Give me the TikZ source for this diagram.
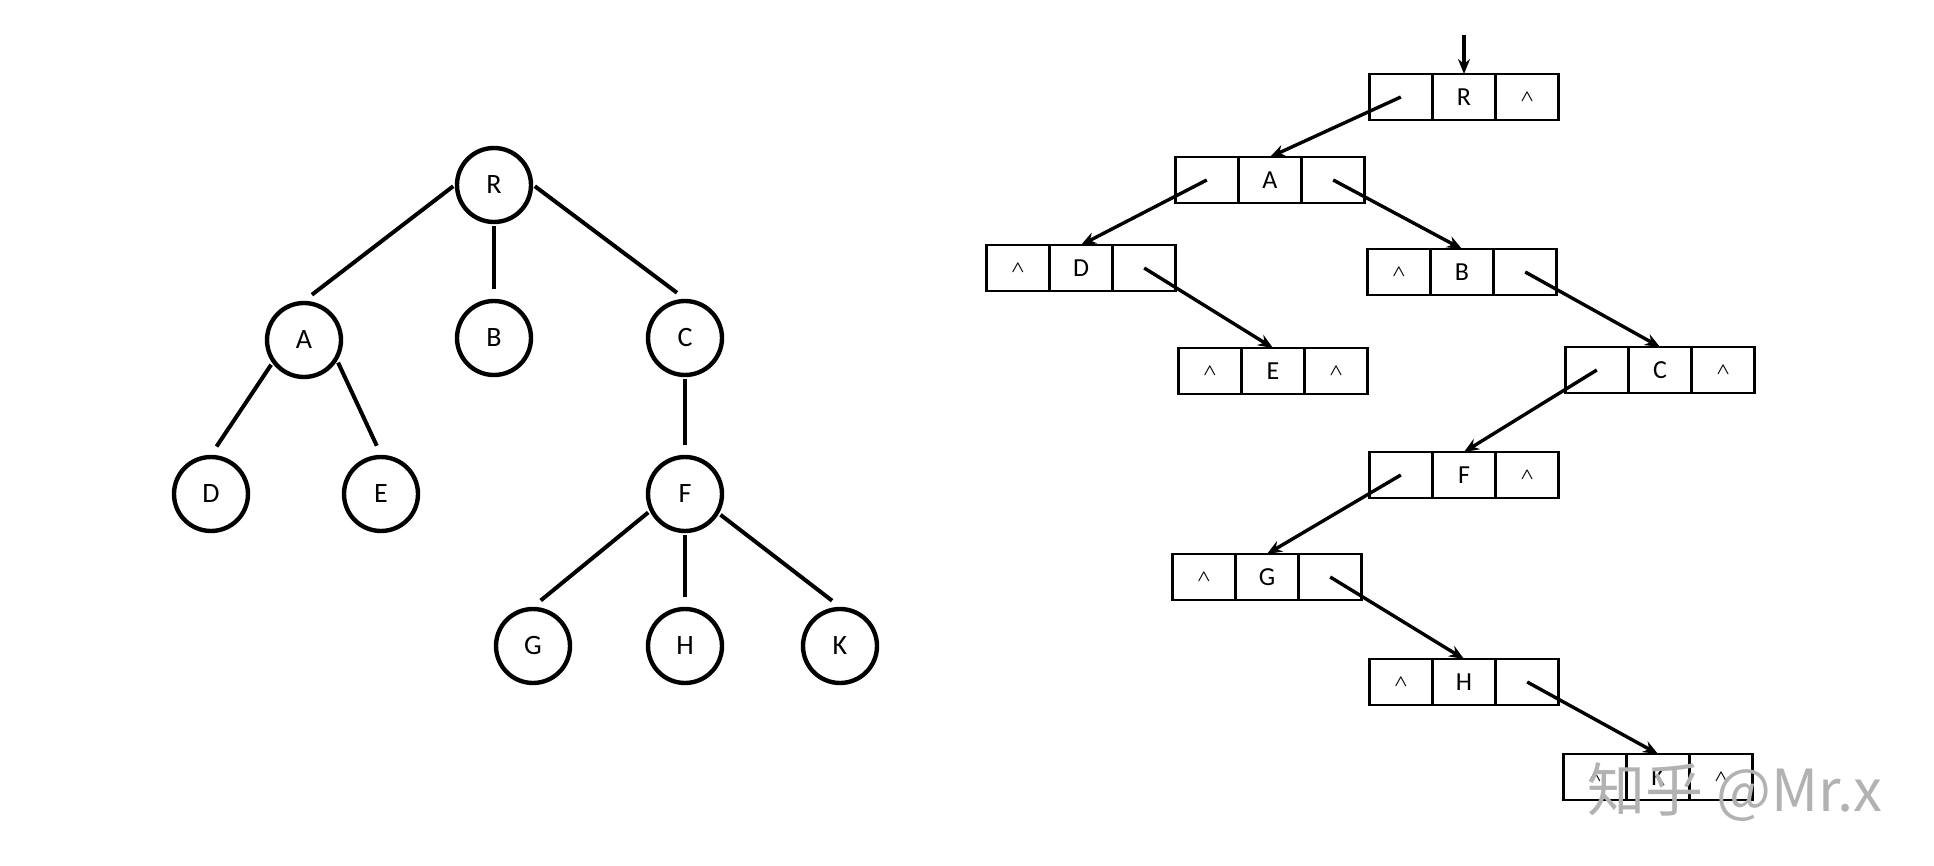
\documentclass[tikz,border=0pt]{standalone}
\usepackage{amsmath}
\usepackage{fontspec}
\setmainfont{Carlito}
\newfontfamily\cjk{Noto Sans CJK SC}
\usetikzlibrary{arrows,arrows.meta,positioning}
\newcommand{\nul}{{\fontsize{8}{8}\selectfont$\boldsymbol{\wedge}$}}

\begin{document}
\begin{tikzpicture}[x=0.5pt,y=-0.5pt,>={Stealth[length=7.5pt,width=6pt]},
	tnode/.style={draw, circle, line width=2.2pt, minimum size=37pt, inner sep=0, font=\fontsize{14}{14}\selectfont},
	tedge/.style={line width=2pt, shorten <=1pt, shorten >=5pt},
	cell/.style={draw, line width=1.4pt, minimum width=31.6pt, minimum height=23pt, inner sep=0, outer sep=0, font=\fontsize{13}{13}\selectfont},
	link/.style={->, line width=1.7pt}]
	\useasboundingbox (0,0) rectangle (1934,866);
	% the tree
	\node[tnode] (tR) at (494, 185) {R};
	\node[tnode] (tA) at (304, 340) {A};
	\node[tnode] (tB) at (494, 338) {B};
	\node[tnode] (tC) at (685, 338) {C};
	\node[tnode] (tD) at (211, 494) {D};
	\node[tnode] (tE) at (381, 494) {E};
	\node[tnode] (tF) at (685, 494) {F};
	\node[tnode] (tG) at (533, 646) {G};
	\node[tnode] (tH) at (685, 646) {H};
	\node[tnode] (tK) at (840, 646) {K};
	\draw[tedge] (tR.west) -- (tA.north);
	\draw[tedge] (tR.south) -- (tB.north);
	\draw[tedge] (tR.east) -- (tC.north);
	\draw[tedge] (tA.216) -- (tD.north);
	\draw[tedge] (tA.-32) -- (tE.north);
	\draw[tedge] (tC.south) -- (tF.north);
	\draw[tedge] (tF.206) -- (tG.north);
	\draw[tedge] (tF.south) -- (tH.north);
	\draw[tedge] (tF.-30) -- (tK.north);
	% child-sibling list
	\node[cell] (r) at (1464, 97) {R};
	\node[cell, left=0pt of r] (rl) {};
	\node[cell, right=0pt of r] (rr) {\nul};
	\node[cell] (a) at (1270, 180) {A};
	\node[cell, left=0pt of a] (al) {};
	\node[cell, right=0pt of a] (ar) {};
	\node[cell] (d) at (1081, 268) {D};
	\node[cell, left=0pt of d] (dl) {\nul};
	\node[cell, right=0pt of d] (dr) {};
	\node[cell] (b) at (1462, 272) {B};
	\node[cell, left=0pt of b] (bl) {\nul};
	\node[cell, right=0pt of b] (br) {};
	\node[cell] (e) at (1273, 371) {E};
	\node[cell, left=0pt of e] (el) {\nul};
	\node[cell, right=0pt of e] (er) {\nul};
	\node[cell] (c) at (1660, 370) {C};
	\node[cell, left=0pt of c] (cl) {};
	\node[cell, right=0pt of c] (cr) {\nul};
	\node[cell] (f) at (1464, 475) {F};
	\node[cell, left=0pt of f] (fl) {};
	\node[cell, right=0pt of f] (fr) {\nul};
	\node[cell] (g) at (1267, 577) {G};
	\node[cell, left=0pt of g] (gl) {\nul};
	\node[cell, right=0pt of g] (gr) {};
	\node[cell] (h) at (1464, 682) {H};
	\node[cell, left=0pt of h] (hl) {\nul};
	\node[cell, right=0pt of h] (hr) {};
	\node[cell] (k) at (1658, 777) {K};
	\node[cell, left=0pt of k] (kl) {\nul};
	\node[cell, right=0pt of k] (kr) {\nul};
	\coordinate (root) at (1464, 35);
	\draw[link] (root) -- (r.north);
	\draw[link] (rl.center) -- (a.north);
	\draw[link] (al.center) -- (d.north);
	\draw[link] (ar.center) -- (b.north);
	\draw[link] (dr.center) -- (e.north);
	\draw[link] (br.center) -- (c.north);
	\draw[link] (cl.center) -- (f.north);
	\draw[link] (fl.center) -- (g.north);
	\draw[link] (gr.center) -- (h.north);
	\draw[link] (hr.center) -- (k.north);
	% watermark
	\node[text=black!30, font=\cjk\fontsize{29}{29}\selectfont] (mark) at (1735, 792) {知乎 @Mr.x};
\end{tikzpicture}
\end{document}
